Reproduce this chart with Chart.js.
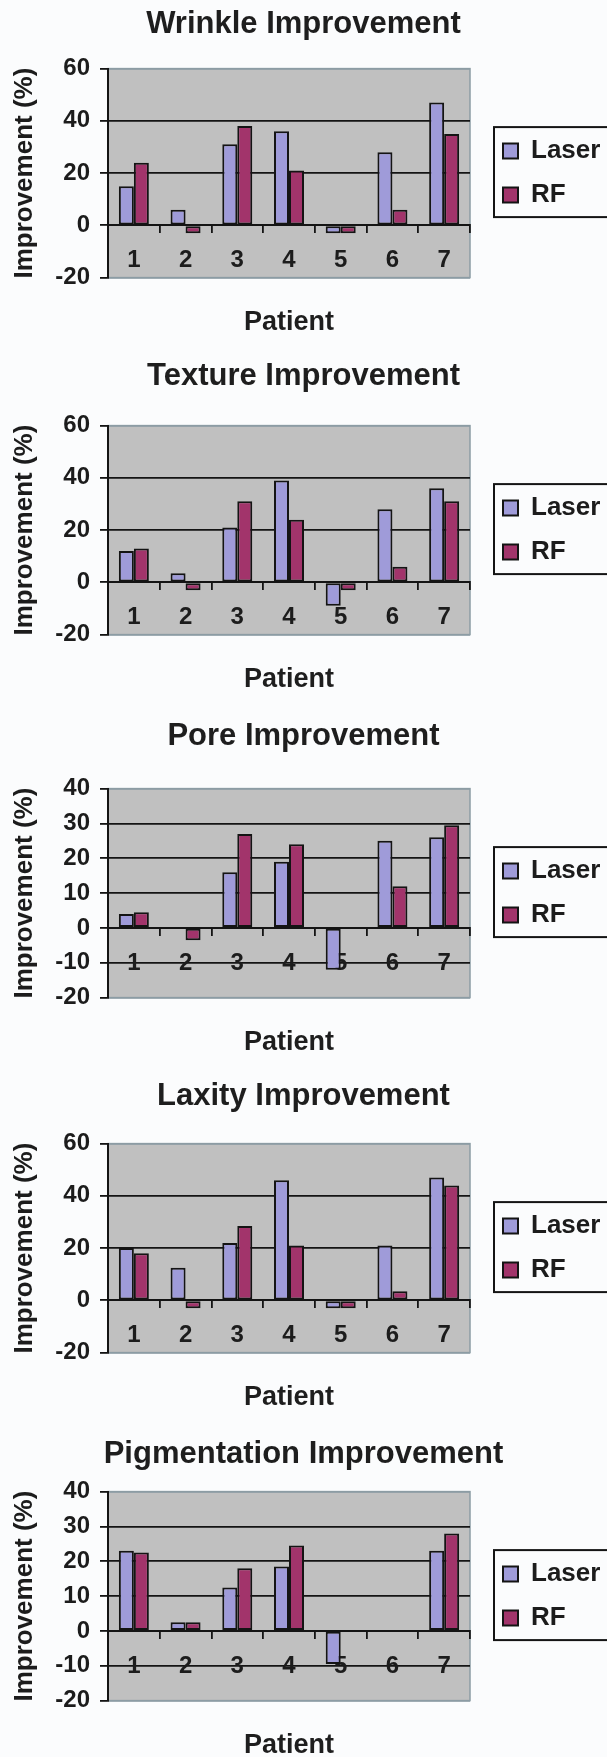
<!DOCTYPE html>
<html>
<head>
<meta charset="utf-8">
<script src="https://cdn.jsdelivr.net/npm/chart.js@4.4.1/dist/chart.umd.min.js"></script>
<style>
  html, body { margin: 0; padding: 0; background: #fbfcfd; overflow: hidden; }
  #wrap { position: relative; width: 607px; height: 1757px; overflow: hidden; }
  #wrap canvas { position: absolute; left: 0; }
</style>
</head>
<body>
<div id="wrap"></div>
<script>
// ---- data ----
const patients = ['1', '2', '3', '4', '5', '6', '7'];
const seriesNames = ['Laser', 'RF'];
const chartTitles = ['Wrinkle Improvement', 'Texture Improvement', 'Pore Improvement', 'Laxity Improvement', 'Pigmentation Improvement'];

const wrinkleLaser = [15, 6, 31, 36, -3, 28, 47];
const wrinkleRF    = [24, -3, 38, 21, -3, 6, 35];
const textureLaser = [12, 3.5, 21, 39, -9, 28, 36];
const textureRF    = [13, -3, 31, 24, -3, 6, 31];
const poreLaser    = [4, 0, 16, 19, -12, 25, 26];
const poreRF       = [4.5, -3.5, 27, 24, 0, 12, 29.5];
const laxityLaser  = [20, 12.5, 22, 46, -3, 21, 47];
const laxityRF     = [18, -3, 28.5, 21, -3, 3.5, 44];
const pigmentLaser = [23, 2.5, 12.5, 18.5, -9.5, 0, 23];
const pigmentRF    = [22.5, 2.5, 18, 24.5, 0, 0, 28];

const yTicksWide   = [-20, 0, 20, 40, 60];
const yTicksNarrow = [-20, -10, 0, 10, 20, 30, 40];

// ---- page layout (pixels) ----
const plotTops  = [69, 426, 789, 1144, 1492];
const titleMids = [25, 377, 737, 1097, 1455];
const PLOT_H = 209;

Chart.defaults.font.family = '"Liberation Sans", Arial, sans-serif';
Chart.defaults.color = '#1c1c1c';

const LASER_FILL = '#9f9bd9';
const RF_FILL = '#a2346b';
const INK = '#141414';
const FRAME = '#8c9ca4';

const charts = [
  { title: chartTitles[0], laser: wrinkleLaser, rf: wrinkleRF, ticks: yTicksWide },
  { title: chartTitles[1], laser: textureLaser, rf: textureRF, ticks: yTicksWide },
  { title: chartTitles[2], laser: poreLaser,    rf: poreRF,    ticks: yTicksNarrow },
  { title: chartTitles[3], laser: laxityLaser,  rf: laxityRF,  ticks: yTicksWide },
  { title: chartTitles[4], laser: pigmentLaser, rf: pigmentRF, ticks: yTicksNarrow }
];

// grey plot area + frame, and the boxed legend
const plotFrame = {
  id: 'plotFrame',
  beforeDraw(chart) {
    const { ctx, chartArea: a } = chart;
    ctx.save();
    ctx.fillStyle = '#c0c0c0';
    ctx.fillRect(a.left, a.top, a.right - a.left, a.bottom - a.top);
    ctx.strokeStyle = FRAME;
    ctx.lineWidth = 1.5;
    ctx.strokeRect(a.left, a.top, a.right - a.left, a.bottom - a.top);
    ctx.restore();
  },
  afterDraw(chart) {
    const hb = chart.legend && chart.legend.legendHitBoxes;
    if (!hb || !hb.length) return;
    const ctx = chart.ctx;
    const x = hb[0].left - 9;
    const y = hb[0].top - 11;
    const y2 = hb[hb.length - 1].top + 35;
    ctx.save();
    ctx.strokeStyle = INK;
    ctx.lineWidth = 2;
    ctx.strokeRect(x, y, chart.width + 10 - x, y2 - y);
    ctx.restore();
  }
};

const wrap = document.getElementById('wrap');
const TITLE_SIZE = 31, TITLE_LH = TITLE_SIZE * 1.2, TITLE_PT = 3;
const SUB_SIZE = 27, SUB_LH = SUB_SIZE * 1.2, SUB_PT = 45 - SUB_SIZE * 0.6;

charts.forEach(function (c, i) {
  const canvasTop = titleMids[i] - TITLE_PT - TITLE_LH / 2;
  const titlePb = plotTops[i] - titleMids[i] - TITLE_LH / 2;
  const areaTop = plotTops[i] - canvasTop;
  const H = Math.ceil(areaTop + PLOT_H + SUB_PT + SUB_LH + 2);
  const subPb = H - areaTop - PLOT_H - SUB_PT - SUB_LH;

  const cv = document.createElement('canvas');
  cv.width = 607;
  cv.height = H;
  cv.style.top = canvasTop + 'px';
  wrap.appendChild(cv);

  const yMin = c.ticks[0], yMax = c.ticks[c.ticks.length - 1];

  new Chart(cv.getContext('2d'), {
    type: 'bar',
    data: {
      labels: patients,
      datasets: [
        { label: seriesNames[0], data: c.laser, backgroundColor: LASER_FILL, borderColor: INK, borderWidth: 2,
          borderSkipped: false, categoryPercentage: 0.58, barPercentage: 1, xAxisID: 'x', yAxisID: 'y' },
        { label: seriesNames[1], data: c.rf, backgroundColor: RF_FILL, borderColor: INK, borderWidth: 2,
          borderSkipped: false, categoryPercentage: 0.58, barPercentage: 1, xAxisID: 'x', yAxisID: 'y' }
      ]
    },
    options: {
      responsive: false,
      animation: false,
      events: [],
      layout: { padding: { left: 0, right: 0, top: 0, bottom: 0 } },
      scales: {
        x: {
          position: { y: 0 },
          offset: true,
          grid: { drawOnChartArea: false, offset: true, tickLength: 7, color: INK, lineWidth: 1.8 },
          border: { color: INK, width: 2 },
          ticks: { font: { size: 24, weight: 'bold' }, padding: 14, maxRotation: 0 },
          afterFit(s) { s.height = 0; }
        },
        y: {
          min: yMin,
          max: yMax,
          afterBuildTicks(s) { s.ticks = c.ticks.map(v => ({ value: v })); },
          grid: {
            color: ctx => (ctx.tick && (ctx.tick.value === yMin || ctx.tick.value === yMax)) ? FRAME : INK,
            tickColor: INK,
            lineWidth: 1.8,
            tickLength: 8
          },
          border: { color: INK, width: 2 },
          ticks: { font: { size: 24, weight: 'bold' }, padding: 10 },
          title: { display: true, text: 'Improvement (%)', font: { size: 26, weight: 'bold' }, padding: { top: 9, bottom: 0 } },
          afterFit(s) { s.width = 108; }
        },
        // invisible spacer between the plot and the legend
        gap: {
          type: 'linear',
          axis: 'y',
          position: 'right',
          display: false,
          afterFit(s) { s.width = 15; }
        }
      },
      plugins: {
        title: {
          display: true,
          text: c.title,
          font: { size: TITLE_SIZE, weight: 'bold' },
          color: '#1e1e1e',
          padding: { top: TITLE_PT, bottom: titlePb }
        },
        subtitle: {
          display: true,
          text: 'Patient',
          position: 'bottom',
          fullSize: false,
          font: { size: SUB_SIZE, weight: 'bold' },
          color: '#1e1e1e',
          padding: { top: SUB_PT, bottom: subPb }
        },
        legend: {
          position: 'right',
          fullSize: false,
          align: 'center',
          maxWidth: 122,
          labels: { boxWidth: 15, boxHeight: 15, padding: 18, font: { size: 26, weight: 'bold' }, color: '#1c1c1c' }
        },
        tooltip: { enabled: false }
      }
    },
    plugins: [plotFrame]
  });
});
</script>
</body>
</html>
